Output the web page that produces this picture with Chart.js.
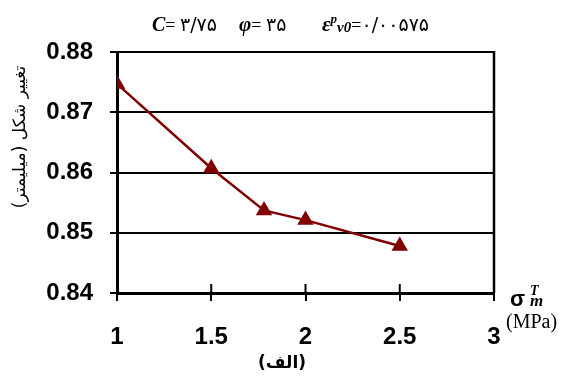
<!DOCTYPE html>
<html>
<head>
<meta charset="utf-8">
<script src="https://cdn.jsdelivr.net/npm/chart.js@4.4.1/dist/chart.umd.min.js"></script>
<style>
  html, body { margin: 0; padding: 0; background: #fff; }
  #wrap { width: 561px; height: 376px; }
</style>
</head>
<body>
<div id="wrap"><canvas id="chart" width="561" height="376"></canvas></div>
<script>
// stress (MPa) vs. deformation (mm)
const stress = [1, 1.5, 1.78, 2, 2.5];
const deformation = [0.8747, 0.8607, 0.8537, 0.8521, 0.8478];
const xTicks = [1, 1.5, 2, 2.5, 3];
const yTicks = [0.84, 0.85, 0.86, 0.87, 0.88];

const yTitle = 'تغییر شکل (میلیمتر)';
const panelLabel = '(الف)';

const serif = "'Liberation Serif', 'Times New Roman', serif";
const sans = "'Liberation Sans', Arial, sans-serif";
const arabic = "'DejaVu Sans', sans-serif";

// draw a run of differently styled text pieces left to right
function drawRun(ctx, x, y, parts) {
    parts.forEach(p => {
        ctx.font = p.font;
        ctx.fillText(p.text, x, y + (p.dy || 0));
        let w = ctx.measureText(p.text).width;
        if (p.stack) w = 0; // next piece sits under this one
        x += w + (p.gap || 0);
    });
}

const annotations = {
    id: 'annotations',
    afterDraw(chart) {
        const ctx = chart.ctx;
        const area = chart.chartArea;
        const xs = chart.scales.x;
        ctx.save();

        // right frame line
        ctx.strokeStyle = '#000';
        ctx.lineWidth = 2.5;
        ctx.beginPath();
        ctx.moveTo(area.right, area.top - 1);
        ctx.lineTo(area.right, area.bottom);
        ctx.stroke();

        // inner half of the x tick marks
        ctx.lineWidth = 2;
        xTicks.forEach(v => {
            const px = xs.getPixelForValue(v);
            ctx.beginPath();
            ctx.moveTo(px, area.bottom - 9);
            ctx.lineTo(px, area.bottom);
            ctx.stroke();
        });

        ctx.fillStyle = '#000';
        ctx.textBaseline = 'alphabetic';
        ctx.textAlign = 'left';

        // parameter line above the plot
        drawRun(ctx, 152, 31, [
            { text: 'C', font: `bold italic 20px ${serif}` },
            { text: '= ', font: `18px ${serif}` },
            { text: '۳/۷۵', font: `19px ${arabic}` }
        ]);
        drawRun(ctx, 239, 31, [
            { text: 'φ', font: `bold italic 21px ${serif}` },
            { text: '= ', font: `18px ${serif}` },
            { text: '۳۵', font: `19px ${arabic}` }
        ]);
        drawRun(ctx, 322, 31, [
            { text: 'ε', font: `bold italic 21px ${serif}` },
            { text: 'p', font: `bold italic 13px ${serif}`, dy: -8 },
            { text: 'v0', font: `bold italic 15px ${serif}`, dy: 1 },
            { text: '=', font: `18px ${serif}` },
            { text: '۰/۰۰۵۷۵', font: `19px ${arabic}` }
        ]);

        // x axis name
        drawRun(ctx, 510, 306, [
            { text: 'σ', font: `bold 22px ${sans}`, gap: 5 },
            { text: 'T', font: `bold italic 14px ${serif}`, dy: -11, stack: true },
            { text: 'm', font: `bold italic 17px ${serif}` }
        ]);
        ctx.font = `20px ${serif}`;
        ctx.fillText('(MPa)', 506, 328);

        // Persian labels need rtl so the brackets land right
        ctx.direction = 'rtl';
        ctx.textAlign = 'center';
        ctx.font = `bold 17px ${arabic}`;
        ctx.fillText(panelLabel, 282, 368);

        ctx.textBaseline = 'middle';
        ctx.translate(21, 137);
        ctx.rotate(-Math.PI / 2);
        ctx.font = `17px ${arabic}`;
        ctx.fillText(yTitle, 0, 0);
        ctx.restore();
    }
};

new Chart(document.getElementById('chart'), {
    type: 'line',
    data: {
        datasets: [{
            data: stress.map((s, i) => ({ x: s, y: deformation[i] })),
            borderColor: '#800000',
            backgroundColor: '#800000',
            borderWidth: 2.5,
            pointStyle: 'triangle',
            pointRadius: 9.5,
            pointBorderWidth: 0,
            tension: 0
        }]
    },
    options: {
        responsive: false,
        animation: false,
        layout: { padding: { left: 0, right: 67, top: 52, bottom: 0 } },
        plugins: {
            legend: { display: false },
            tooltip: { enabled: false },
            title: { display: false }
        },
        scales: {
            x: {
                type: 'linear',
                min: 1,
                max: 3,
                afterBuildTicks: axis => { axis.ticks = xTicks.map(v => ({ value: v })); },
                afterFit: axis => { axis.height = 83; },
                grid: {
                    drawOnChartArea: false,
                    drawTicks: true,
                    tickLength: 8,
                    color: '#000',
                    lineWidth: 2
                },
                border: { display: true, color: '#000', width: 3 },
                ticks: {
                    color: '#000',
                    padding: 22,
                    maxRotation: 0,
                    font: { family: sans, size: 24, weight: 'bold' },
                    callback: v => String(v)
                }
            },
            y: {
                min: 0.84,
                max: 0.88,
                afterBuildTicks: axis => { axis.ticks = yTicks.map(v => ({ value: v })); },
                afterFit: axis => { axis.width = 117; },
                grid: {
                    drawOnChartArea: true,
                    drawTicks: true,
                    tickLength: 7,
                    color: '#000',
                    lineWidth: 2
                },
                border: { display: true, color: '#000', width: 3 },
                ticks: {
                    color: '#000',
                    padding: 17,
                    font: { family: sans, size: 24, weight: 'bold' },
                    callback: v => v.toFixed(2)
                }
            }
        }
    },
    plugins: [annotations]
});
</script>
</body>
</html>
